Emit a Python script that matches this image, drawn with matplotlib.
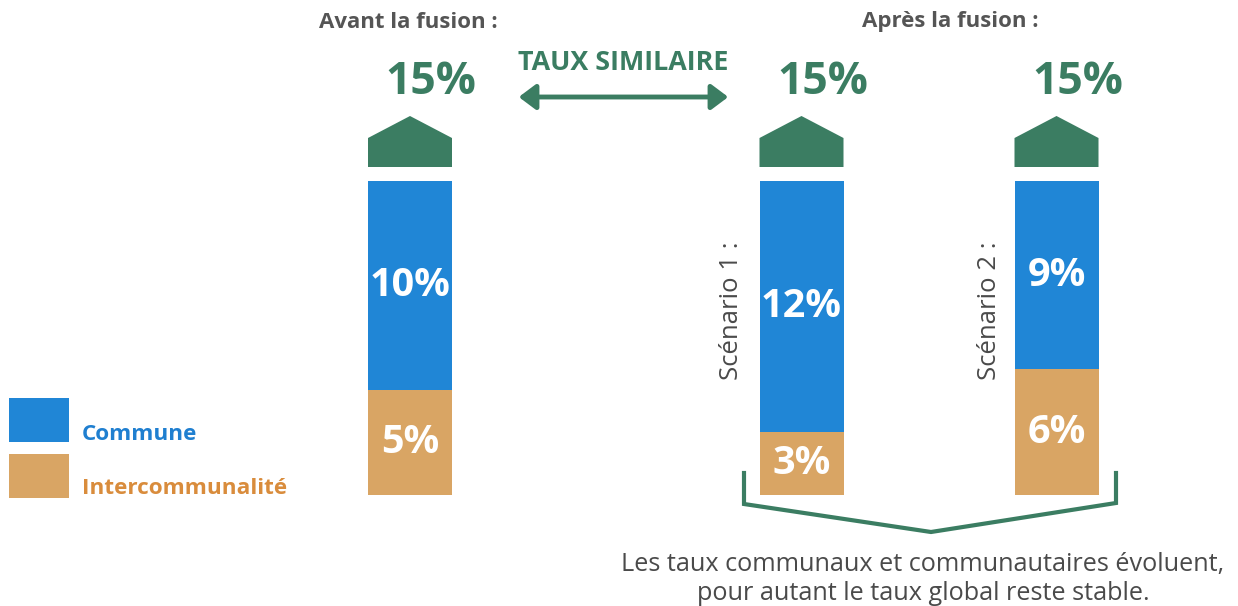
import matplotlib
matplotlib.use("Agg")
import matplotlib.pyplot as plt
from matplotlib.patches import Polygon, Rectangle, FancyArrowPatch

plt.rcParams["font.family"] = ["Open Sans", "DejaVu Sans"]

# ---- data ----
bar_labels = ["Avant la fusion", "Scénario 1 :", "Scénario 2 :"]
commune = [10, 12, 9]
interco = [5, 3, 6]
series_names = ["Commune", "Intercommunalité"]

# ---- styling ----
W, H = 1238, 606
BLUE = "#2086d6"
TAN = "#d9a564"
GREEN = "#3b7d62"
GREY = "#4a4a4a"
BLUE_TXT = "#1f7fd0"
TAN_TXT = "#d98c3c"

bar_x = [410, 801.5, 1056.5]   # bar centres (pixels)
bar_w = 84
base_px, top_px = 495, 181     # pixel rows of 0% and 15%
px_per_pct = (base_px - top_px) / 15.0

fig = plt.figure(figsize=(W / 100, H / 100), dpi=100)
fig.patch.set_facecolor("white")

# bar axes: x in pixels, y in percent
ax = fig.add_axes([0, 0, 1, 1])
ax.set_xlim(0, W)
ax.set_ylim(-(H - base_px) / px_per_pct, base_px / px_per_pct)
ax.axis("off")

# overlay axes in pixel coordinates for the annotations
ov = fig.add_axes([0, 0, 1, 1])
ov.set_xlim(0, W)
ov.set_ylim(H, 0)
ov.axis("off")
ov.patch.set_alpha(0)

ax.bar(bar_x, interco, width=bar_w, color=TAN, linewidth=0)
ax.bar(bar_x, commune, width=bar_w, bottom=interco, color=BLUE, linewidth=0)

for x, c, i in zip(bar_x, commune, interco):
    ax.text(x, i + c / 2, f"{c}%", ha="center", va="center", color="white",
            fontsize=28.5, fontweight="bold")
    ax.text(x, i / 2, f"{i}%", ha="center", va="center", color="white",
            fontsize=28.5, fontweight="bold")
    # house-shaped arrow and total above each bar
    x0, x1 = x - 42, x + 42
    ov.add_patch(Polygon([(x0, 167), (x0, 138), (x, 116), (x1, 138), (x1, 167)],
                         closed=True, facecolor=GREEN, edgecolor="none"))
    ov.text(x + 21, 82, f"{c + i}%", ha="center", va="center", color=GREEN,
            fontsize=32, fontweight="bold")

# headers
ov.text(408, 22, "Avant la fusion :", ha="center", va="center", color="#555555",
        fontsize=16, fontweight="bold")
ov.text(950, 22, "Après la fusion :", ha="center", va="center", color="#555555",
        fontsize=16, fontweight="bold")

# similar-rate double arrow
ov.text(623, 63, "TAUX SIMILAIRE", ha="center", va="center", color=GREEN,
        fontsize=19.4, fontweight="bold")
ov.add_patch(FancyArrowPatch((516, 97), (731, 97),
                             arrowstyle="<|-|>,head_length=6,head_width=4.5",
                             mutation_scale=1.7, color=GREEN, linewidth=3.5))

# scenario labels
for x, lab in zip([732, 989], bar_labels[1:]):
    ov.text(x, 311, lab, ha="center", va="center", rotation=90,
            color=GREY, fontsize=18.5)

# legend
ov.add_patch(Rectangle((9, 398), 60, 44, facecolor=BLUE, edgecolor="none"))
ov.add_patch(Rectangle((9, 454), 60, 44, facecolor=TAN, edgecolor="none"))
ov.text(82, 434, series_names[0], ha="left", va="center", color=BLUE_TXT,
        fontsize=16.2, fontweight="bold")
ov.text(82, 489, series_names[1], ha="left", va="center", color=TAN_TXT,
        fontsize=16.2, fontweight="bold")

# bracket under the scenarios
ov.plot([744, 744, 931, 1116, 1116], [473, 504, 532, 503, 473],
        color=GREEN, linewidth=3, solid_joinstyle="miter")

ov.text(923, 564, "Les taux communaux et communautaires évoluent,",
        ha="center", va="center", color=GREY, fontsize=18.2)
ov.text(923, 593, "pour autant le taux global reste stable.",
        ha="center", va="center", color=GREY, fontsize=18.2)

fig.savefig("out.png", dpi=100, facecolor="white")
